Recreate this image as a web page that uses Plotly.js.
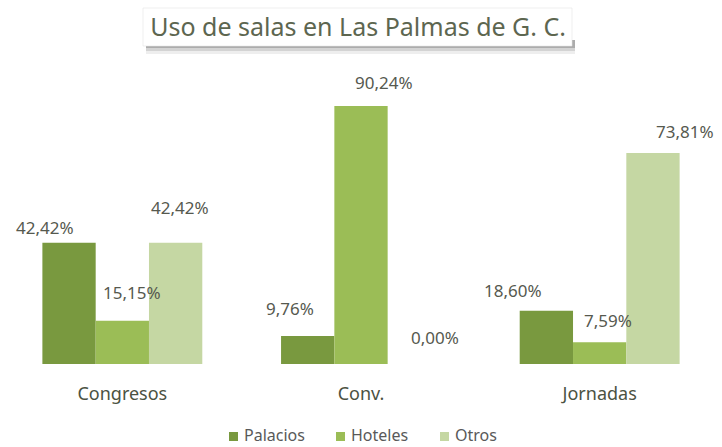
<!DOCTYPE html>
<html><head><meta charset="utf-8">
<script src="https://cdn.plot.ly/plotly-3.0.1.min.js"></script>
<style>body{margin:0;background:#fff}</style>
</head><body><div id="chart" style="width:722px;height:447px"></div>
<script>
const categories = ["Congresos", "Conv.", "Jornadas"];
const seriesNames = ["Palacios", "Hoteles", "Otros"];
const palacios = [42.42, 9.76, 18.60];
const hoteles = [15.15, 90.24, 7.59];
const otros = [42.42, 0.00, 73.81];
const colors = ["#79993f", "#9bbd56", "#c5d7a3"];
// label placement tweaks (px): horizontal from bar centre, vertical above bar top
const labelDx = [[-24,-18,-33],[10,23,8],[4,21,32]];
const labelDy = [[15,28,20],[28,23,22],[35,27,21]];

const series = [palacios, hoteles, otros];
const fmt = v => v.toFixed(2).replace('.', ',') + '%';
const M = {l:3, r:3, t:78, b:83};
const W = 722, H = 447;
const pw = W - M.l - M.r, ph = H - M.t - M.b;
const barPx = (pw / categories.length) * 0.67 / 3;
const FONT = 'Noto Sans, sans-serif';

const traces = series.map((vals, i) => ({
  type: 'bar', name: seriesNames[i], x: categories, y: vals,
  marker: {color: colors[i]}, hoverinfo: 'none', showlegend: false
}));

const px2x = p => (p - M.l) / pw;
const px2y = p => (H - M.b - p) / ph;

const annotations = [];
series.forEach((vals, i) => {
  vals.forEach((v, j) => {
    annotations.push({
      x: categories[j], y: v, xref: 'x', yref: 'y', text: fmt(v), showarrow: false,
      xanchor: 'center', yanchor: 'middle',
      xshift: (i - 1) * barPx + labelDx[i][j], yshift: labelDy[i][j],
      font: {family: FONT, size: 17, color: '#56594f'}
    });
  });
});

const shapes = [];
// legend drawn as swatches + text entries
const legendX = [229, 336, 440];
const legendY = 436;
seriesNames.forEach((name, i) => {
  shapes.push({type: 'rect', xref: 'paper', yref: 'paper',
    x0: px2x(legendX[i]), x1: px2x(legendX[i] + 9), y0: px2y(legendY + 5), y1: px2y(legendY - 4),
    fillcolor: colors[i], line: {width: 0}, layer: 'above'});
  annotations.push({
    x: px2x(legendX[i] + 14), y: px2y(legendY - 1), xref: 'paper', yref: 'paper', showarrow: false,
    xanchor: 'left', yanchor: 'middle', borderpad: 0,
    text: name, font: {family: FONT, size: 16, color: '#595959'}
  });
});

// title box shadow
[[0.10, 54], [0.18, 51], [0.32, 48]].forEach(([a, yb]) => {
  shapes.push({type: 'rect', xref: 'paper', yref: 'paper', x0: px2x(146), x1: px2x(575), y0: px2y(yb), y1: px2y(40),
    fillcolor: 'rgba(90,90,90,' + a + ')', line: {width: 0}, layer: 'above'});
});
shapes.push({type: 'rect', xref: 'paper', yref: 'paper', x0: px2x(143), x1: px2x(572), y0: px2y(46), y1: px2y(8),
  fillcolor: '#ffffff', line: {width: 0.6, color: '#e4e4e4'}, layer: 'above'});

const layout = {
  width: W, height: H, margin: M,
  paper_bgcolor: '#fff', plot_bgcolor: '#fff',
  title: {text: 'Uso de salas en Las Palmas de G. C.', xref: 'container', x: 0.496, y: 0.94, yanchor: 'middle',
    font: {family: FONT, size: 25, color: '#5d6650'}},
  barmode: 'group', bargap: 0.33, bargroupgap: 0,
  showlegend: false,
  xaxis: {type: 'category', showgrid: false, zeroline: false, showline: false,
    ticks: 'outside', ticklen: 13, tickcolor: 'rgba(0,0,0,0)',
    tickfont: {family: FONT, size: 18, color: '#4b5242'}},
  yaxis: {range: [0, 100], visible: false, showgrid: false, zeroline: false},
  annotations: annotations,
  shapes: shapes
};

Plotly.newPlot('chart', traces, layout, {displayModeBar: false, staticPlot: true});
</script></body></html>
